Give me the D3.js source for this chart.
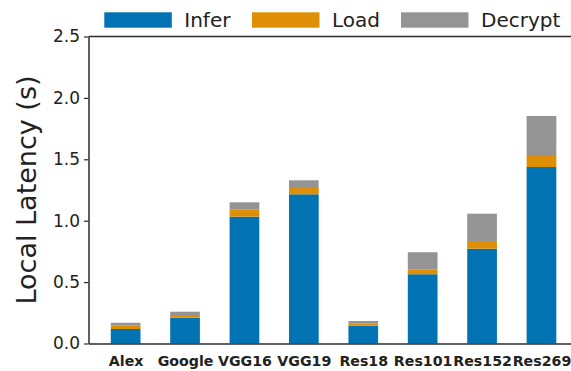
<!DOCTYPE html>
<html>
<head>
<meta charset="utf-8">
<script src="https://cdn.jsdelivr.net/npm/d3@7"></script>
<style>
  html, body { margin: 0; padding: 0; background: #fff; }
  svg { display: block; font-family: "DejaVu Sans", sans-serif; }
</style>
</head>
<body>
<svg id="chart" width="571" height="371"></svg>
<script>
const categories = ["Alex", "Google", "VGG16", "VGG19", "Res18", "Res101", "Res152", "Res269"];
const inferValues = [0.118, 0.210, 1.033, 1.215, 0.145, 0.564, 0.772, 1.437];
const loadValues = [0.027, 0.014, 0.060, 0.051, 0.016, 0.037, 0.063, 0.090];
const decryptValues = [0.024, 0.035, 0.057, 0.063, 0.022, 0.142, 0.222, 0.326];
const seriesNames = ["Infer", "Load", "Decrypt"];
const seriesColors = ["#0173b2", "#de8f05", "#949494"];
const yTicks = [0, 0.5, 1.0, 1.5, 2.0, 2.5];
const yLabel = "Local Latency (s)";

const svg = d3.select("#chart");
const margin = { left: 88.5, top: 36.5, right: 578.6, bottom: 343.5 };

const x = d3.scaleLinear().domain([-0.625, categories.length - 0.375]).range([margin.left, margin.right]);
const y = d3.scaleLinear().domain([0, 2.5]).range([margin.bottom, margin.top]);
const barW = x(0.5) - x(0);

const rows = categories.map((c, i) => ({ cat: c, i: i, Infer: inferValues[i], Load: loadValues[i], Decrypt: decryptValues[i] }));
const stacked = d3.stack().keys(seriesNames)(rows);

const color = d3.scaleOrdinal().domain(seriesNames).range(seriesColors);

svg.append("g").selectAll("g")
  .data(stacked)
  .join("g")
  .attr("fill", d => color(d.key))
  .selectAll("rect")
  .data(d => d)
  .join("rect")
  .attr("x", d => x(d.data.i) - barW / 2)
  .attr("width", barW)
  .attr("y", d => y(d[1]))
  .attr("height", d => y(d[0]) - y(d[1]));

// y axis
const yAxis = d3.axisLeft(y).tickValues(yTicks).tickFormat(d3.format(".1f")).tickSize(4.5).tickSizeOuter(0).tickPadding(4);
const gy = svg.append("g").attr("transform", `translate(${margin.left},0)`).call(yAxis);
gy.select(".domain").attr("stroke", "#2b2b2b").attr("stroke-width", 1.5);
gy.selectAll(".tick line").attr("stroke", "#2b2b2b").attr("stroke-width", 1.2);
gy.selectAll(".tick text").attr("font-size", 17).attr("fill", "#222").attr("font-family", "DejaVu Sans");

// x axis (no tick marks)
const xAxis = d3.axisBottom(x).tickValues(categories.map((c, i) => i)).tickFormat(i => categories[i]).tickSize(0).tickSizeOuter(0).tickPadding(12.5);
const gx = svg.append("g").attr("transform", `translate(0,${margin.bottom})`).call(xAxis);
gx.select(".domain").attr("stroke", "#2b2b2b").attr("stroke-width", 1.5);
gx.selectAll(".tick text").attr("font-size", 14.2).attr("font-weight", "bold").attr("fill", "#222").attr("font-family", "DejaVu Sans");

// top spine
svg.append("line")
  .attr("x1", margin.left).attr("x2", margin.right)
  .attr("y1", margin.top).attr("y2", margin.top)
  .attr("stroke", "#2b2b2b").attr("stroke-width", 1.5);

// y label
svg.append("text")
  .attr("transform", `translate(35.5,${(margin.top + margin.bottom) / 2}) rotate(-90)`)
  .attr("text-anchor", "middle")
  .attr("font-size", 27)
  .attr("fill", "#222")
  .text(yLabel);

// legend
const legendX = [104.3, 252, 401];
const lg = svg.append("g");
seriesNames.forEach((name, k) => {
  lg.append("rect")
    .attr("x", legendX[k]).attr("y", 12.3)
    .attr("width", 67.5).attr("height", 15.4)
    .attr("fill", color(name));
  lg.append("text")
    .attr("x", legendX[k] + 80).attr("y", 26.8)
    .attr("font-size", 20)
    .attr("fill", "#222")
    .text(name);
});
</script>
</body>
</html>
